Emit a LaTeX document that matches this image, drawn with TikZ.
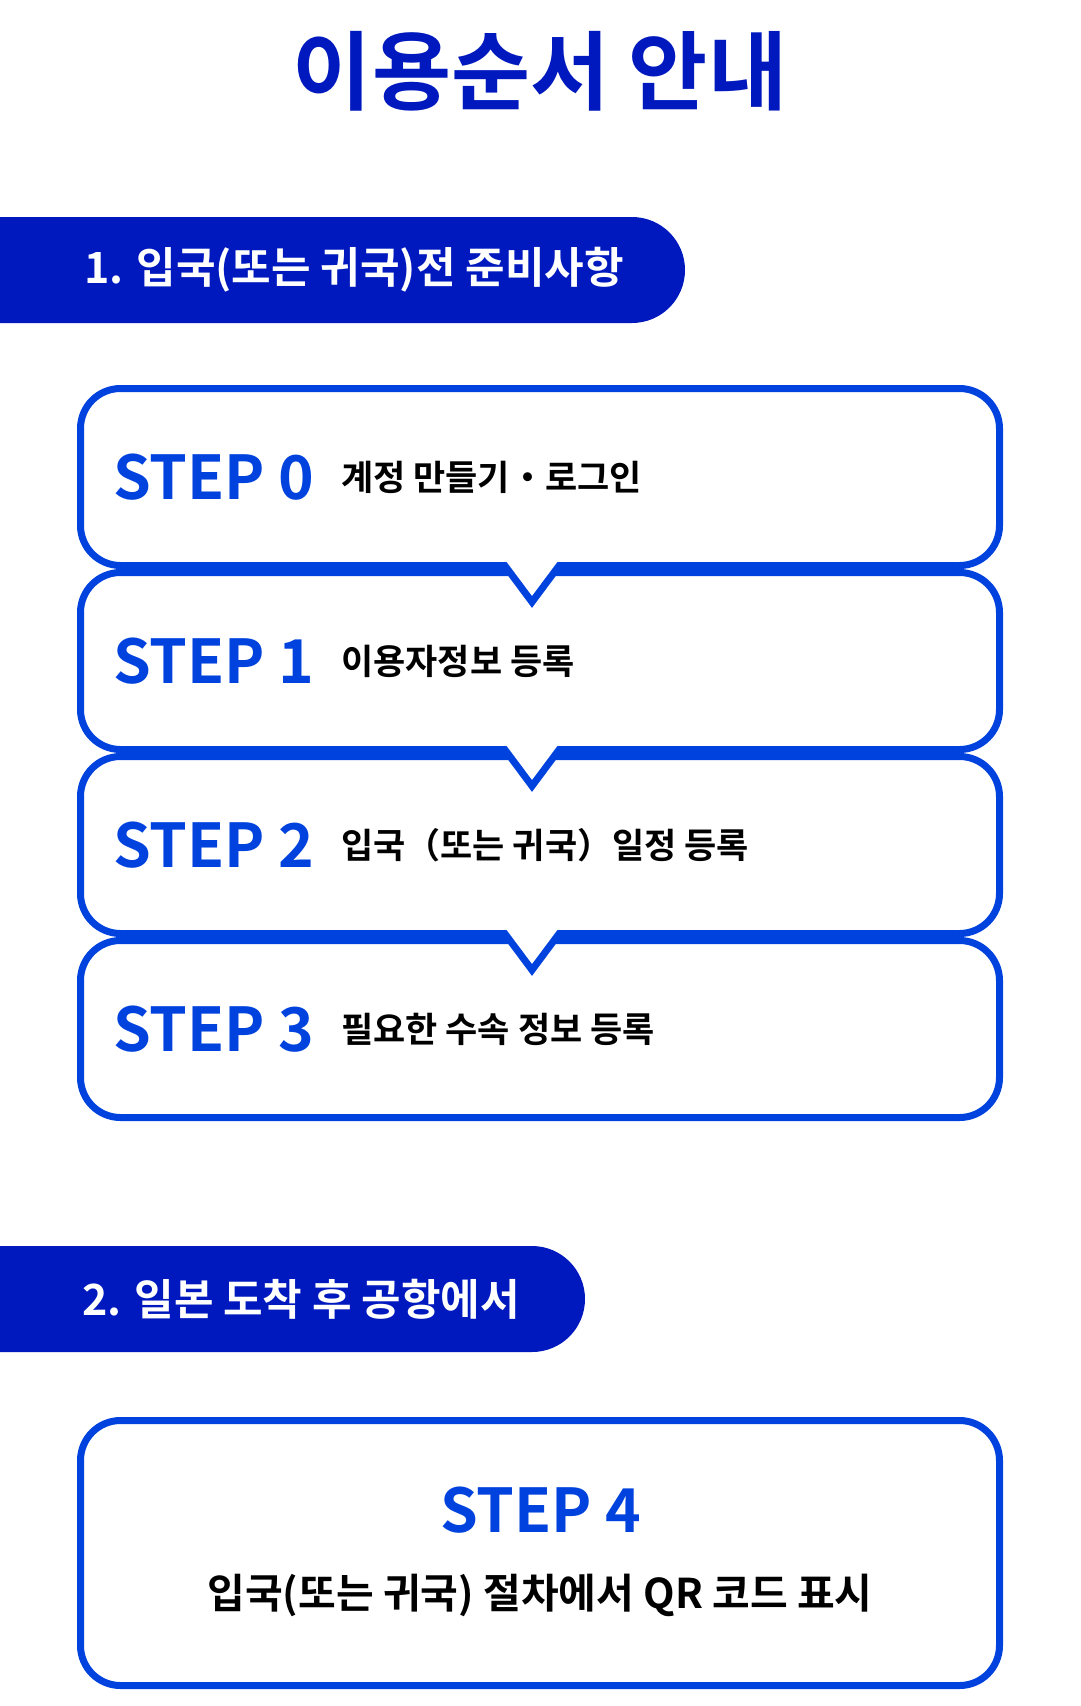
\documentclass[tikz,border=0pt]{standalone}
\usepackage{fontspec}
\newfontfamily\krb{Noto Sans CJK KR Bold}
\definecolor{navy}{HTML}{0019BE}
\definecolor{stepblue}{HTML}{0042DE}
\begin{document}
\begin{tikzpicture}[x=1pt,y=-1pt,
  stepbox/.style={draw=stepblue, line width=7pt, fill=white, rounded corners=40pt},
  banner/.style={fill=navy, rounded corners=53pt},
  vline/.style={draw=stepblue, line width=7pt, miter limit=10},
  title/.style={inner sep=0pt, text=navy, font=\krb\fontsize{86}{100}\selectfont},
  bantext/.style={anchor=west, inner sep=0pt, text=white, font=\krb\fontsize{43}{52}\selectfont},
  steplbl/.style={anchor=west, inner sep=0pt, text=stepblue, font=\krb\fontsize{60.5}{72}\selectfont},
  steptxt/.style={anchor=west, inner sep=0pt, text=black, font=\krb\fontsize{35}{42}\selectfont},
  bigtxt/.style={inner sep=0pt, text=black, font=\krb\fontsize{41}{50}\selectfont}]
\useasboundingbox (0,0) rectangle (1080,1706);
\fill[white] (0,0) rectangle (1080,1706);
\begin{scope}
\clip (0,0) rectangle (1080,1706);
% title
\node[title] (ttl) at (540,71) {이용순서 안내};
% banner 1
\path[banner] (-100,217) rectangle (685,323);
\node[bantext] (b1) at (84,270) {1. 입국(또는 귀국)전 준비사항};
% step boxes
\path[stepbox] (80.5,388.5) rectangle (999.5,565.5);
\path[stepbox] (80.5,572.5) rectangle (999.5,749.5);
\path[stepbox] (80.5,756.5) rectangle (999.5,933.5);
\path[stepbox] (80.5,940.5) rectangle (999.5,1117.5);
% pointers
\foreach \b in {565.5,749.5,933.5}{
  \fill[white] (504.8,\b-3.6) -- (559.2,\b-3.6) -- (532,\b+36.5) -- cycle;
  \draw[vline] (495,\b) -- (504.8,\b) -- (532,\b+36.5) -- (559.2,\b) -- (569,\b);
}
\node[steplbl] (s0) at (113,477) {STEP 0};
\node[steptxt] (t0) at (341,477) {계정 만들기・로그인};
\node[steplbl] (s1) at (113,661) {STEP 1};
\node[steptxt] (t1) at (341,661) {이용자정보 등록};
\node[steplbl] (s2) at (113,845) {STEP 2};
\node[steptxt] (t2) at (341,845) {입국（또는 귀국）일정 등록};
\node[steplbl] (s3) at (113,1029) {STEP 3};
\node[steptxt] (t3) at (341,1029) {필요한 수속 정보 등록};
% banner 2
\path[banner] (-100,1246) rectangle (585,1352);
\node[bantext] (b2) at (82,1299) {2. 일본 도착 후 공항에서};
% step 4
\path[stepbox] (80.5,1420.5) rectangle (999.5,1685.5);
\node[steplbl, anchor=center] (s4) at (541,1510) {STEP 4};
\node[bigtxt] (t4) at (540,1595) {입국(또는 귀국) 절차에서 QR 코드 표시};
\end{scope}
\end{tikzpicture}
\end{document}
